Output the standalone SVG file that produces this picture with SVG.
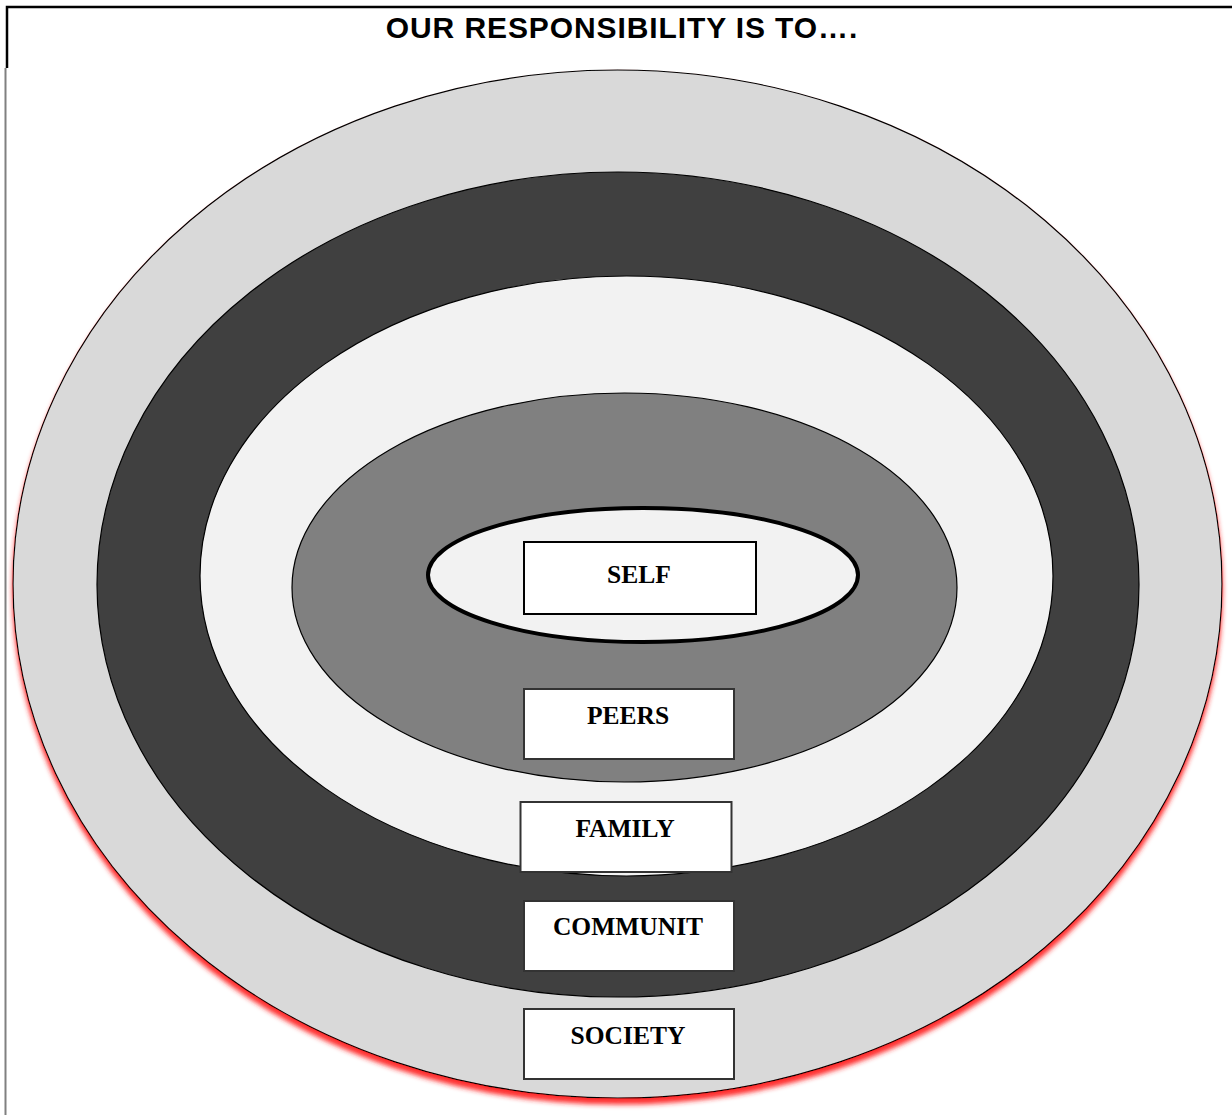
<svg xmlns="http://www.w3.org/2000/svg" width="1232" height="1115" viewBox="0 0 1232 1115">
<defs>
<style>
.ring{stroke:#000;stroke-width:1.2}
.box{fill:#fff;stroke:#333;stroke-width:2}
.lbl{font-family:"Liberation Serif","Times New Roman",serif;font-weight:bold;font-size:25.5px;text-anchor:middle;fill:#000}
.title{font-family:"Liberation Sans",Arial,sans-serif;font-weight:bold;font-size:30px;letter-spacing:0.9px;text-anchor:middle;fill:#000}
</style>
<filter id="glow" x="-10%" y="-10%" width="120%" height="120%">
<feDropShadow dx="0" dy="6" stdDeviation="2.5" flood-color="#ff2020" flood-opacity="0.95"/>
</filter>
</defs>
<rect width="1232" height="1115" fill="#fff"/>
<g id="frame">
<path d="M7,68 V7 H1232" fill="none" stroke="#000" stroke-width="2.5"/>
<line x1="5.5" y1="68" x2="5.5" y2="1115" stroke="#808080" stroke-width="2"/>
<text class="title" x="622" y="38">OUR RESPONSIBILITY IS TO….</text>
</g>
<g id="society-ring"><ellipse class="ring" cx="617.5" cy="584" rx="604.5" ry="514" fill="#d9d9d9" filter="url(#glow)"/></g>
<g id="community-ring"><ellipse class="ring" cx="618" cy="584.5" rx="521" ry="412.5" fill="#404040"/></g>
<g id="family-ring"><ellipse class="ring" cx="626.5" cy="576" rx="426.5" ry="300" fill="#f2f2f2"/></g>
<g id="peers-ring"><ellipse class="ring" cx="624.5" cy="587.5" rx="332.5" ry="194.5" fill="#808080"/></g>
<g id="self-ring"><ellipse cx="643" cy="575" rx="215" ry="67" fill="#f2f2f2" stroke="#000" stroke-width="4"/></g>
<g id="connectors"></g>
<g id="self"><rect class="box" x="524" y="542" width="232" height="72" style="stroke:#000"/><text class="lbl" x="639" y="583">SELF</text></g>
<g id="peers"><rect class="box" x="524" y="689" width="210" height="70"/><text class="lbl" x="628" y="724">PEERS</text></g>
<g id="family"><rect class="box" x="520.5" y="802" width="211" height="70"/><text class="lbl" x="625" y="837">FAMILY</text></g>
<g id="community"><rect class="box" x="524" y="901" width="210" height="70"/><text class="lbl" x="628" y="935">COMMUNIT</text></g>
<g id="society"><rect class="box" x="524" y="1009" width="210" height="70"/><text class="lbl" x="628" y="1044">SOCIETY</text></g>
</svg>
